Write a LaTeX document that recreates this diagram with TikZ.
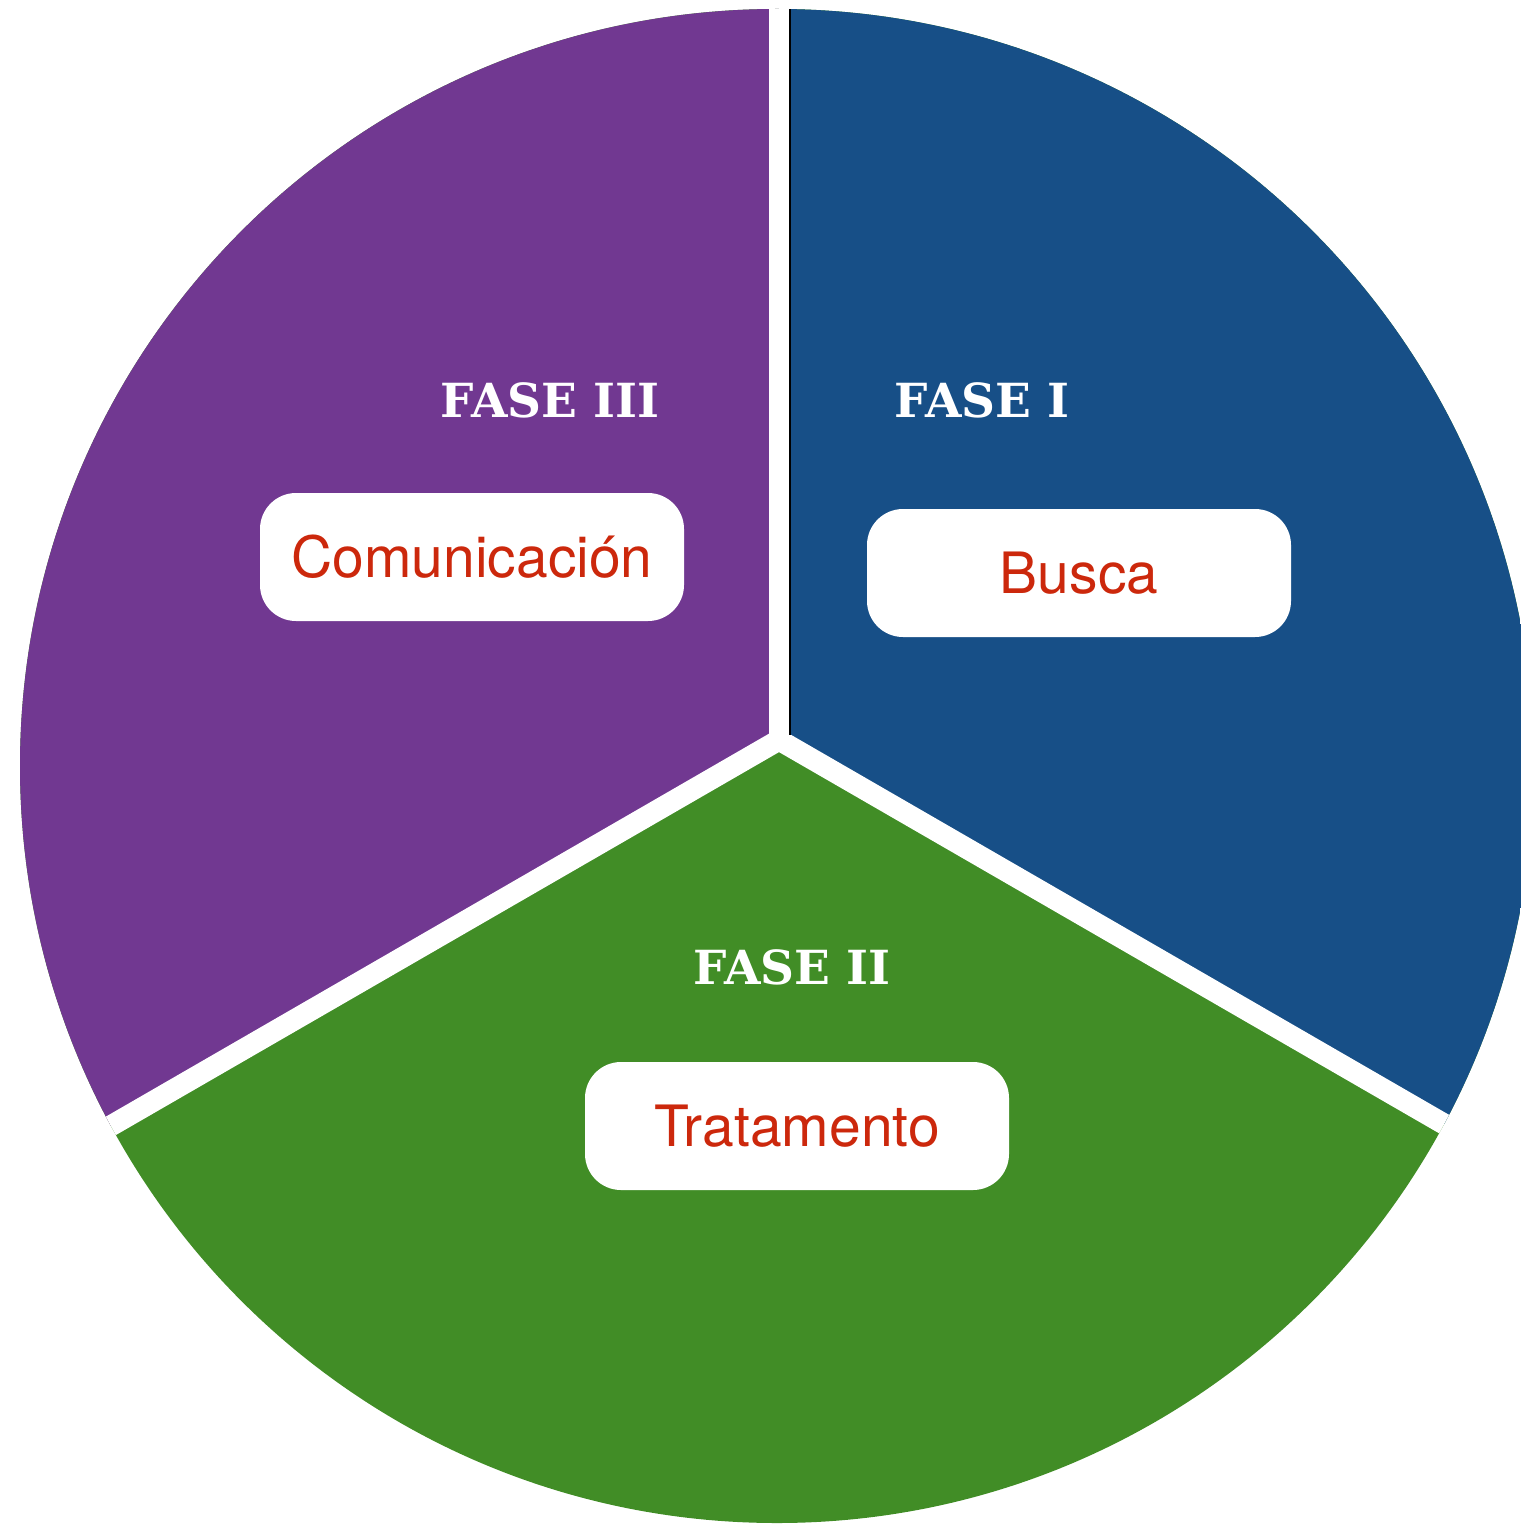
\documentclass[tikz,border=0pt]{standalone}
\usepackage{fontspec}
\setmainfont{TeX Gyre Heros}
\newfontfamily\slabfont{DejaVu Serif}
\usetikzlibrary{positioning}

\definecolor{fasepurple}{RGB}{113,56,145}
\definecolor{faseblue}{RGB}{23,79,135}
\definecolor{fasegreen}{RGB}{65,141,38}
\definecolor{labelred}{RGB}{204,40,12}

\tikzset{
  fasetitle/.style={text=white,font=\slabfont\bfseries\fontsize{23.5}{28}\selectfont},
  fasebox/.style={fill=white,rounded corners=18pt,minimum width=212pt,minimum height=64pt,
    text=labelred,font=\fontsize{28.5}{34}\selectfont,inner sep=0pt},
  gap/.style={white,line width=10.5pt}
}

\begin{document}
\begin{tikzpicture}[x=0.5pt,y=0.5pt,yscale=-1,xscale=1]
\useasboundingbox (0,0) rectangle (1520,1524); %picture is 1520 wide and 1524 high

\coordinate (apex) at (779,740);

%Shape: pie sectors
\begin{scope}
\clip (777,766) circle [radius=757];
\fill [fasegreen] (0,0) rectangle (1600,1600);
\fill [fasepurple] (apex) -- (779,-460) -- (-1000,-460) -- (-1000,1767) -- cycle;
\fill [faseblue] (apex) -- (779,-460) -- (2558,-460) -- (2558,1767) -- cycle;
%Straight Lines: white gaps
\draw [gap] (apex) -- (779,-100);
\draw [gap] (apex) -- (-260,1340);
\draw [gap] (apex) -- (1818,1340);
\draw [black,line width=1.2pt] (790,0) -- (790,735);
\end{scope}

% Text Node
\node (fase3) [fasetitle] at (550,400) {FASE III};
% Text Node
\node (fase1) [fasetitle] at (982,400) {FASE I};
% Text Node
\node (fase2) [fasetitle] at (792,967) {FASE II};
% Text Node
\node (comunicacion) [fasebox] at (472,557) {Comunicación};
% Text Node
\node (busca) [fasebox] at (1079,573) {Busca};
% Text Node
\node (tratamento) [fasebox] at (797,1126) {Tratamento};

\end{tikzpicture}
\end{document}
